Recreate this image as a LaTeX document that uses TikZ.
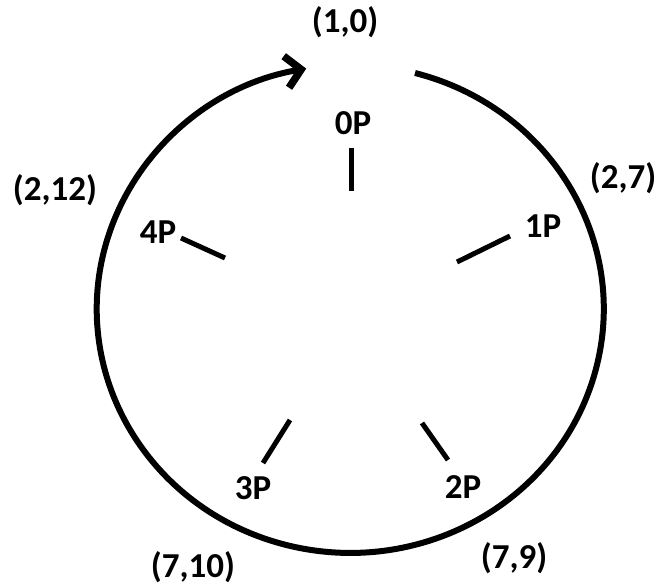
\documentclass[tikz,border=0pt]{standalone}
\usepackage{fontspec}
\setmainfont{Carlito}
\usetikzlibrary{arrows.meta}
\begin{document}
\begin{tikzpicture}[x=1pt,y=-1pt,
  lbl/.style={font=\fontsize{35}{38}\selectfont\bfseries, inner sep=0pt},
  spoke/.style={line width=5pt},
  ring/.style={line width=6pt}]
\useasboundingbox (0,0) rectangle (664,586);
% ring with gap at top, arrow at end
\coordinate (ringstart) at (415,73);
\draw[ring, -{Straight Barb[length=15pt,width=32pt,line width=7.5pt]}]
  (ringstart) arc[start angle=-75.2, end angle=260, x radius=253.5, y radius=244];
% spokes
\coordinate (s0a) at (351,148); \coordinate (s0b) at (351,191);
\coordinate (s1a) at (457,262); \coordinate (s1b) at (510,236);
\coordinate (s2a) at (422,423); \coordinate (s2b) at (448,460);
\coordinate (s3a) at (290,420); \coordinate (s3b) at (263,463);
\coordinate (s4a) at (181,238); \coordinate (s4b) at (225,258);
\draw[spoke] (s0a) -- (s0b);
\draw[spoke] (s1a) -- (s1b);
\draw[spoke] (s2a) -- (s2b);
\draw[spoke] (s3a) -- (s3b);
\draw[spoke] (s4a) -- (s4b);
% labels
\node[lbl] (p0) at (353,123) {0P};
\node[lbl] (p1) at (543,226) {1P};
\node[lbl] (p2) at (463,487) {2P};
\node[lbl] (p3) at (253,488) {3P};
\node[lbl] (p4) at (158,232) {4P};
\node[lbl] (c10) at (345,22) {(1,0)};
\node[lbl] (c27) at (623,178) {(2,7)};
\node[lbl] (c212) at (55,190) {(2,12)};
\node[lbl] (c710) at (193,567) {(7,10)};
\node[lbl] (c79) at (514,558) {(7,9)};
\end{tikzpicture}
\end{document}
